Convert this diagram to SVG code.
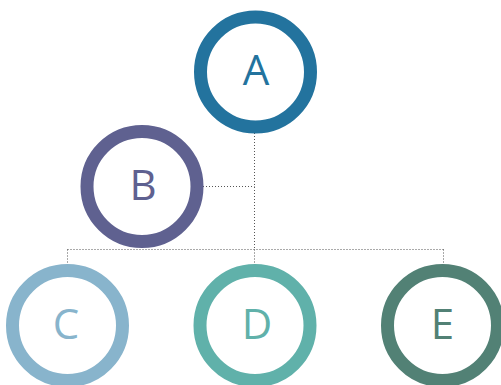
<svg xmlns="http://www.w3.org/2000/svg" width="501" height="385" viewBox="0 0 501 385">
<style>
.ring{fill:#fff;stroke-width:13}
.lbl{font-family:"Open Sans",sans-serif;font-size:42px;font-weight:400;text-anchor:middle}
.conn{fill:none;stroke:#555;stroke-width:1;stroke-dasharray:1 2}
</style>
<rect width="501" height="385" fill="#fff"/>
<g id="connectors">
<path class="conn" d="M254.5 133V249.5"/>
<path class="conn" d="M203 186.5H254.5"/>
<path class="conn" d="M67.5 249.5H443.5"/>
<path class="conn" d="M67.5 249.5V264"/>
<path class="conn" d="M443.5 249.5V264"/>
<path class="conn" d="M254.5 249.5V264"/>
</g>
<g id="A"><circle class="ring" cx="255.5" cy="72" r="55" stroke="#23739e"/><text class="lbl" x="256" y="85" fill="#23739e">A</text></g>
<g id="B"><circle class="ring" cx="142" cy="186.5" r="55" stroke="#5f6190"/><text class="lbl" x="143" y="199.5" fill="#5f6190">B</text></g>
<g id="C"><circle class="ring" cx="67.5" cy="325.5" r="55" stroke="#88b4cc"/><text class="lbl" x="66" y="338.5" fill="#88b4cc">C</text></g>
<g id="D"><circle class="ring" cx="255" cy="325.5" r="55" stroke="#60b1aa"/><text class="lbl" x="257" y="338.5" fill="#60b1aa">D</text></g>
<g id="E"><circle class="ring" cx="442.5" cy="325.5" r="55" stroke="#528175"/><text class="lbl" x="442.5" y="338.5" fill="#528175">E</text></g>
</svg>
